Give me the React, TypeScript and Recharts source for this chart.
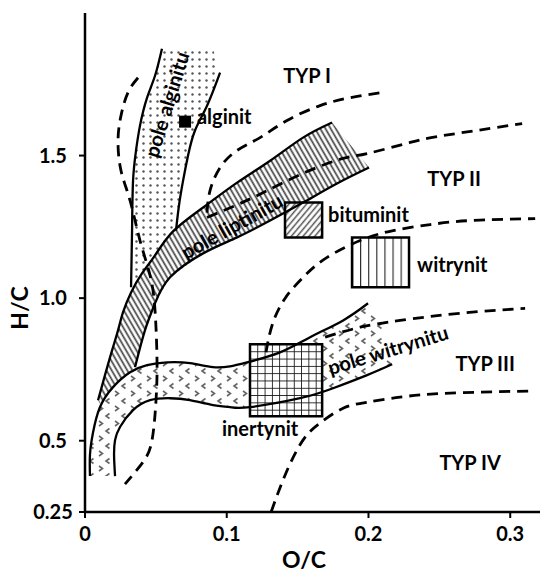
import {
  ComposedChart,
  XAxis,
  YAxis,
  Line,
  Area,
  Scatter,
  ReferenceArea,
} from "recharts";

type Pt = { x: number; y: number };
const pts = (a: number[][]): Pt[] => a.map(([x, y]) => ({ x, y }));

const xTicks = [0, 0.1, 0.2, 0.3];
const xTickLabels = ["0", "0.1", "0.2", "0.3"];
const yTicks = [0.25, 0.5, 1.0, 1.5];
const yTickLabels = ["0.25", "0.5", "1.0", "1.5"];

// pole alginitu
const alginitLeft = pts([
  [0.0543, 1.875], [0.0494, 1.78], [0.0438, 1.703], [0.0388, 1.605],
  [0.036, 1.518], [0.0339, 1.412], [0.0332, 1.237], [0.0325, 1.038],
]);
const alginitRight = pts([
  [0.0953, 1.791], [0.0861, 1.675], [0.0776, 1.588], [0.0727, 1.5],
  [0.0692, 1.412], [0.0663, 1.325], [0.0642, 1.237],
]);
const alginitTop = pts([[0.0903, 1.875]]);
const alginitFoot = pts([[0.06, 1.167], [0.0473, 1.038]]);

// pole liptinitu
const liptinitUpper = pts([
  [0.0092, 0.642], [0.0141, 0.73], [0.0191, 0.817], [0.0233, 0.887],
  [0.0268, 0.95], [0.0325, 1.02], [0.0402, 1.087], [0.0494, 1.15],
  [0.0621, 1.234], [0.0833, 1.318], [0.1073, 1.405], [0.1306, 1.482],
  [0.1538, 1.563], [0.1743, 1.616],
]);
const liptinitLower = pts([
  [0.2004, 1.458], [0.1778, 1.402], [0.1538, 1.335], [0.1306, 1.272],
  [0.1073, 1.213], [0.0833, 1.157], [0.06, 1.073], [0.0494, 0.982],
  [0.0423, 0.887], [0.0353, 0.758],
]);
const liptinitFoot = pts([[0.0318, 0.74], [0.0198, 0.688], [0.0106, 0.63]]);

// pole witrynitu
const vitriniteUpper = pts([
  [0.0035, 0.376], [0.0035, 0.45], [0.0056, 0.527], [0.0106, 0.618],
  [0.0198, 0.688], [0.0318, 0.74], [0.0438, 0.765], [0.0579, 0.775],
  [0.0741, 0.772], [0.0903, 0.758], [0.1023, 0.761], [0.1143, 0.775],
  [0.1376, 0.81], [0.1588, 0.863], [0.1821, 0.922], [0.1997, 0.982],
]);
const vitriniteLower = pts([
  [0.0212, 0.376], [0.0205, 0.45], [0.0212, 0.502], [0.0247, 0.548],
  [0.0339, 0.607], [0.0459, 0.642], [0.06, 0.649], [0.0741, 0.642],
  [0.0903, 0.625], [0.1023, 0.618], [0.1164, 0.618], [0.1517, 0.649],
  [0.175, 0.684], [0.199, 0.73], [0.2167, 0.768],
]);
const vitriniteTip = pts([[0.2082, 0.936]]);

// boundaries of kerogen types (dashed)
const typeBoundaryA = pts([
  [0.0374, 1.773], [0.0303, 1.721], [0.0254, 1.64], [0.0233, 1.553],
  [0.0254, 1.447], [0.0318, 1.342], [0.0388, 1.202], [0.0459, 1.08],
  [0.0494, 0.957], [0.0508, 0.782], [0.0501, 0.642], [0.0473, 0.502],
  [0.0409, 0.425], [0.0282, 0.348],
]);
const typeBoundaryB = pts([
  [0.0861, 1.3], [0.0882, 1.377], [0.0953, 1.458], [0.1073, 1.518],
  [0.1235, 1.563], [0.1425, 1.623], [0.1658, 1.675], [0.187, 1.703],
  [0.2096, 1.721],
]);
const typeBoundaryC = pts([
  [0.0861, 1.283], [0.1108, 1.335], [0.1284, 1.377], [0.1567, 1.444],
  [0.1821, 1.49], [0.199, 1.507], [0.2294, 1.546], [0.2526, 1.57],
  [0.3084, 1.612],
]);
const typeBoundaryD = pts([
  [0.1277, 0.81], [0.132, 0.905], [0.1411, 0.999], [0.1553, 1.08],
  [0.1708, 1.143], [0.1941, 1.202], [0.2174, 1.237], [0.2435, 1.258],
  [0.2717, 1.272], [0.3176, 1.279],
]);
const typeBoundaryE = pts([
  [0.1694, 0.863], [0.1941, 0.898], [0.2223, 0.922], [0.2646, 0.947],
  [0.3105, 0.964],
]);
const typeBoundaryF = pts([
  [0.1313, 0.25], [0.1418, 0.387], [0.1538, 0.502], [0.1658, 0.562],
  [0.1821, 0.614], [0.199, 0.635], [0.2223, 0.653], [0.2576, 0.667],
  [0.314, 0.674],
]);

// macerals (boxes: x1, x2, y1, y2)
const inertynitBox = [0.1164, 0.1673, 0.586, 0.838];
const bituminitBox = [0.1411, 0.1673, 1.213, 1.335];
const witrynitBox = [0.1884, 0.2286, 1.038, 1.213];
const alginitPoint = pts([[0.0706, 1.619]]);

const alginitField = [
  alginitLeft[0], ...alginitTop, ...alginitRight, ...alginitFoot,
  ...[...alginitLeft].reverse(),
];
const liptinitField = [...liptinitUpper, ...liptinitLower, ...liptinitFoot, liptinitUpper[0]];
const vitriniteField = [
  ...vitriniteUpper, ...vitriniteTip, ...[...vitriniteLower].reverse(), vitriniteUpper[0],
];

const labels = [
  { x: 0.1567, y: 1.78, text: "TYP I", angle: 0, anchor: "middle" },
  { x: 0.2604, y: 1.419, text: "TYP II", angle: 0, anchor: "middle" },
  { x: 0.2823, y: 0.768, text: "TYP III", angle: 0, anchor: "middle" },
  { x: 0.2717, y: 0.422, text: "TYP IV", angle: 0, anchor: "middle" },
  { x: 0.079, y: 1.637, text: "alginit", angle: 0, anchor: "start" },
  { x: 0.1715, y: 1.29, text: "bituminit", angle: 0, anchor: "start" },
  { x: 0.2343, y: 1.115, text: "witrynit", angle: 0, anchor: "start" },
  { x: 0.1235, y: 0.541, text: "inertynit", angle: 0, anchor: "middle" },
  { x: 0.0579, y: 1.679, text: "pole alginitu", angle: -73, anchor: "middle" },
  { x: 0.1037, y: 1.251, text: "pole liptinitu", angle: -29, anchor: "middle" },
  { x: 0.2138, y: 0.817, text: "pole witrynitu", angle: -17, anchor: "middle" },
];

const FONT = "Lato, 'Open Sans', sans-serif";

const XTick = (props: any) => {
  const { x, y, payload } = props;
  return (
    <text x={x} y={y} dy={21} textAnchor="middle" fontSize={20} fontWeight="bold" fontFamily={FONT} fill="#000">
      {xTickLabels[xTicks.indexOf(payload.value)]}
    </text>
  );
};

const YTick = (props: any) => {
  const { x, y, payload } = props;
  return (
    <text x={x - 24} y={y} dy={7} textAnchor="middle" fontSize={20} fontWeight="bold" fontFamily={FONT} fill="#000">
      {yTickLabels[yTicks.indexOf(payload.value)]}
    </text>
  );
};

const LabelShape = (props: any) => {
  const { cx, cy, payload } = props;
  return (
    <text
      x={cx}
      y={cy}
      dy={7}
      textAnchor={payload.anchor}
      transform={payload.angle ? `rotate(${payload.angle} ${cx} ${cy})` : undefined}
      fontSize={20}
      fontWeight="bold"
      fontFamily={FONT}
      fill="#000"
    >
      {payload.text}
    </text>
  );
};

const SquareShape = (props: any) => (
  <rect x={props.cx - 6} y={props.cy - 6} width={12} height={12} fill="#000" />
);

const solid = { stroke: "#000", strokeWidth: 2.3 };
const dashed = { stroke: "#000", strokeWidth: 2.8, strokeDasharray: "11 7" };

export default function App() {
  return (
    <div style={{ position: "absolute", left: 0, top: 0, background: "#fff" }}>
      <svg width={0} height={0} style={{ position: "absolute" }}>
        <defs>
          <pattern id="pDots" width={7} height={7} patternUnits="userSpaceOnUse">
            <rect width={7} height={7} fill="#fff" />
            <circle cx={3.5} cy={3.5} r={1.2} fill="#555" />
          </pattern>
          <pattern id="pLipt" width={4.5} height={4.5} patternUnits="userSpaceOnUse" patternTransform="rotate(-30)">
            <rect width={4.5} height={4.5} fill="#fff" />
            <line x1={1.5} y1={0} x2={1.5} y2={4.5} stroke="#444" strokeWidth={1.7} />
          </pattern>
          <pattern id="pChev" width={16} height={15} patternUnits="userSpaceOnUse">
            <rect width={16} height={15} fill="#fff" />
            <path d="M3 1 L6.5 3.5 L3 6" stroke="#666" strokeWidth={1.6} fill="none" />
            <path d="M13.5 8.5 L10 11 L13.5 13.5" stroke="#666" strokeWidth={1.6} fill="none" />
          </pattern>
          <pattern id="pBitu" width={4.5} height={4.5} patternUnits="userSpaceOnUse" patternTransform="rotate(40)">
            <rect width={4.5} height={4.5} fill="#fff" />
            <line x1={1.5} y1={0} x2={1.5} y2={4.5} stroke="#555" strokeWidth={1.5} />
          </pattern>
          <pattern id="pWitr" x={352} width={8.1} height={10} patternUnits="userSpaceOnUse">
            <rect width={8.1} height={10} fill="#fff" />
            <line x1={0} y1={0} x2={0} y2={10} stroke="#222" strokeWidth={2.2} />
          </pattern>
          <pattern id="pGrid" x={250} y={344} width={7.3} height={7.3} patternUnits="userSpaceOnUse">
            <rect width={7.3} height={7.3} fill="#fff" />
            <line x1={0} y1={0} x2={0} y2={7.3} stroke="#111" strokeWidth={1.7} />
            <line x1={0} y1={0} x2={7.3} y2={0} stroke="#111" strokeWidth={1.7} />
          </pattern>
        </defs>
      </svg>
      <ComposedChart
        width={541}
        height={574}
        margin={{ top: 13, right: 1, left: 0, bottom: 0 }}
        style={{ fontFamily: FONT }}
      >
        <XAxis
          type="number"
          dataKey="x"
          domain={[0, 0.321]}
          ticks={xTicks}
          tick={<XTick />}
          tickSize={6}
          height={62}
          axisLine={{ stroke: "#000", strokeWidth: 2.5 }}
          tickLine={{ stroke: "#000", strokeWidth: 2 }}
          label={{
            content: () => (
              <text x={304} y={568} textAnchor="middle" fontSize={23} fontWeight="bold" fontFamily={FONT} fill="#000">
                O/C
              </text>
            ),
          }}
        />
        <YAxis
          type="number"
          dataKey="y"
          domain={[0.25, 2.0]}
          ticks={yTicks}
          tick={<YTick />}
          tickSize={6}
          width={85}
          axisLine={{ stroke: "#000", strokeWidth: 2.5 }}
          tickLine={{ stroke: "#000", strokeWidth: 2 }}
          label={{
            content: () => (
              <text
                x={20}
                y={308}
                dy={8}
                textAnchor="middle"
                transform="rotate(-90 20 308)"
                fontSize={23}
                fontWeight="bold"
                fontFamily={FONT}
                fill="#000"
              >
                H/C
              </text>
            ),
          }}
        />

        <Area data={alginitField} dataKey="y" type="linear" stroke="none" fill="url(#pDots)" fillOpacity={1} dot={false} activeDot={false} isAnimationActive={false} />
        <Area data={liptinitField} dataKey="y" type="linear" stroke="none" fill="url(#pLipt)" fillOpacity={1} dot={false} activeDot={false} isAnimationActive={false} />
        <Area data={vitriniteField} dataKey="y" type="linear" stroke="none" fill="url(#pChev)" fillOpacity={1} dot={false} activeDot={false} isAnimationActive={false} />

        <ReferenceArea x1={inertynitBox[0]} x2={inertynitBox[1]} y1={inertynitBox[2]} y2={inertynitBox[3]} fill="url(#pGrid)" fillOpacity={1} stroke="#000" strokeWidth={2.5} />
        <ReferenceArea x1={bituminitBox[0]} x2={bituminitBox[1]} y1={bituminitBox[2]} y2={bituminitBox[3]} fill="url(#pBitu)" fillOpacity={1} stroke="#000" strokeWidth={2.5} />
        <ReferenceArea x1={witrynitBox[0]} x2={witrynitBox[1]} y1={witrynitBox[2]} y2={witrynitBox[3]} fill="url(#pWitr)" fillOpacity={1} stroke="#000" strokeWidth={2.5} />

        <Line data={alginitLeft} dataKey="y" type="natural" {...solid} dot={false} activeDot={false} isAnimationActive={false} />
        <Line data={alginitRight} dataKey="y" type="natural" {...solid} dot={false} activeDot={false} isAnimationActive={false} />
        <Line data={liptinitUpper} dataKey="y" type="natural" {...solid} dot={false} activeDot={false} isAnimationActive={false} />
        <Line data={liptinitLower} dataKey="y" type="natural" {...solid} dot={false} activeDot={false} isAnimationActive={false} />
        <Line data={vitriniteUpper} dataKey="y" type="natural" {...solid} dot={false} activeDot={false} isAnimationActive={false} />
        <Line data={vitriniteLower} dataKey="y" type="natural" {...solid} dot={false} activeDot={false} isAnimationActive={false} />

        <Line data={typeBoundaryA} dataKey="y" type="natural" {...dashed} dot={false} activeDot={false} isAnimationActive={false} />
        <Line data={typeBoundaryB} dataKey="y" type="natural" {...dashed} dot={false} activeDot={false} isAnimationActive={false} />
        <Line data={typeBoundaryC} dataKey="y" type="natural" {...dashed} dot={false} activeDot={false} isAnimationActive={false} />
        <Line data={typeBoundaryD} dataKey="y" type="natural" {...dashed} dot={false} activeDot={false} isAnimationActive={false} />
        <Line data={typeBoundaryE} dataKey="y" type="natural" {...dashed} dot={false} activeDot={false} isAnimationActive={false} />
        <Line data={typeBoundaryF} dataKey="y" type="natural" {...dashed} dot={false} activeDot={false} isAnimationActive={false} />

        <Scatter data={alginitPoint} dataKey="y" shape={<SquareShape />} isAnimationActive={false} />
        <Scatter data={labels} dataKey="y" shape={<LabelShape />} isAnimationActive={false} />
      </ComposedChart>
    </div>
  );
}
